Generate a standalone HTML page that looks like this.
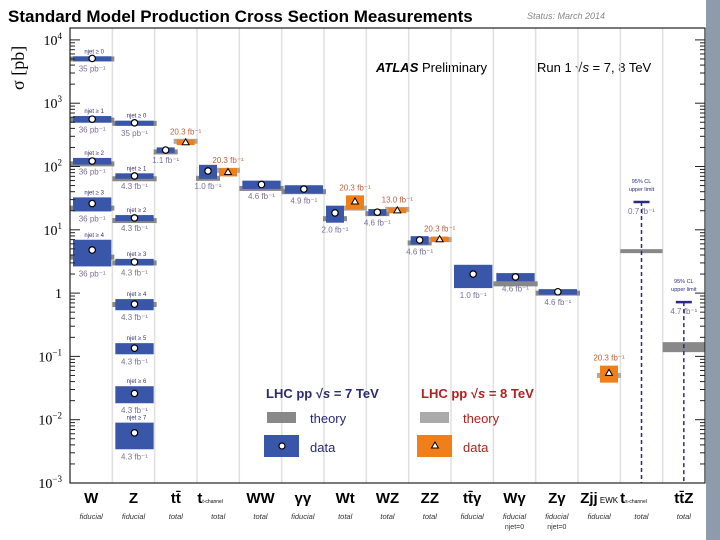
<!DOCTYPE html>
<html><head><meta charset="utf-8"><style>
html,body{margin:0;padding:0;background:#fff;}
svg{display:block;font-family:"Liberation Sans",sans-serif;}
</style></head><body>
<svg id="chart" width="720" height="540" viewBox="0 0 720 540" xmlns="http://www.w3.org/2000/svg">
<rect x="0" y="0" width="720" height="540" fill="#fff"/>
<rect x="706" y="0" width="14" height="540" fill="#8e9bab"/>
<text x="8" y="22" font-size="17" font-weight="bold">Standard Model Production Cross Section Measurements</text>
<text x="527" y="19" font-size="9" font-style="italic" fill="#888">Status: March 2014</text>
<text transform="translate(24,90) rotate(-90)" font-size="18" font-family="Liberation Serif,serif">σ [pb]</text>
<text x="376" y="72" font-size="13"><tspan font-weight="bold" font-style="italic">ATLAS</tspan> Preliminary</text>
<text x="537" y="72" font-size="13">Run 1   √<tspan font-style="italic">s</tspan> = 7, 8 TeV</text>
<g id="grid"></g><g id="theory"></g><g id="data"></g><g id="axes"></g><g id="labels"></g>
<g>
<text x="266" y="398" font-size="13" font-weight="bold" fill="#2a2a70">LHC pp  √<tspan font-style="italic">s</tspan> = 7 TeV</text>
<rect x="267" y="412" width="29" height="11" fill="#888"/>
<text x="310" y="423" font-size="13" fill="#2a2a70">theory</text>
<rect x="264" y="435" width="35" height="22" fill="#3a56a8"/>
<circle cx="282" cy="446" r="3" fill="#fff" stroke="#000" stroke-width="1.2"/>
<text x="310" y="452" font-size="13" fill="#2a2a70">data</text>
<text x="421" y="398" font-size="13" font-weight="bold" fill="#b02020">LHC pp  √<tspan font-style="italic">s</tspan> = 8 TeV</text>
<rect x="420" y="412" width="29" height="11" fill="#aaa"/>
<text x="463" y="423" font-size="13" fill="#b02020">theory</text>
<rect x="417" y="435" width="35" height="22" fill="#f07f1a"/>
<path d="M435 442 L438.5 448 L431.5 448 Z" fill="#fff" stroke="#000" stroke-width="1"/>
<text x="463" y="452" font-size="13" fill="#b02020">data</text>
</g>
</svg>
<script>
const categories=["W","Z","tt̄","t","WW","γγ","Wt","WZ","ZZ","tt̄γ","Wγ","Zγ","Zjj","t","tt̄Z"];
const subLabels=["fiducial","fiducial","total","total","total","fiducial","total","total","total","fiducial","fiducial","fiducial","fiducial","total","total"];
const subLabels2=["","","","","","","","","","","njet=0","njet=0","","",""];
// measurements
const mCol=[0,0,0,0,0,1,1,1,1,1,1,1,1,2,2,3,3,4,5,6,6,7,7,8,8,9,10,11,12];
const mPos=["f","f","f","f","f","f","f","f","f","f","f","f","f","l","r","l","r","f","f","l","r","l","r","l","r","f","f","f","r"];
const mEnergy=[7,7,7,7,7,7,7,7,7,7,7,7,7,7,8,7,8,7,7,7,8,7,8,7,8,7,7,7,8];
const mValue=[5100,560,122,26,4.8,490,71,15.4,3.1,0.67,0.135,0.026,0.0062,182,242,85,82,52,44,18.5,28,19,20.3,6.9,7.1,2.0,1.8,1.05,0.055];
const mErr=[0.08,0.12,0.12,0.25,0.45,0.08,0.1,0.11,0.12,0.2,0.2,0.3,0.45,0.1,0.1,0.25,0.15,0.15,0.15,0.3,0.25,0.12,0.1,0.15,0.1,0.4,0.15,0.1,0.3];
const mTheory=[5000,540,110,22,3.7,480,64,14,3.0,0.66,0,0,0,170,250,65,87,45,40,15,22,18,21,6.2,7.0,0,1.4,1.0,0.05];
const mLumi=["35 pb⁻¹","36 pb⁻¹","36 pb⁻¹","36 pb⁻¹","36 pb⁻¹","35 pb⁻¹","4.3 fb⁻¹","4.3 fb⁻¹","4.3 fb⁻¹","4.3 fb⁻¹","4.3 fb⁻¹","4.3 fb⁻¹","4.3 fb⁻¹","1.1 fb⁻¹","20.3 fb⁻¹","1.0 fb⁻¹","20.3 fb⁻¹","4.6 fb⁻¹","4.9 fb⁻¹","2.0 fb⁻¹","20.3 fb⁻¹","4.6 fb⁻¹","13.0 fb⁻¹","4.6 fb⁻¹","20.3 fb⁻¹","1.0 fb⁻¹","4.6 fb⁻¹","4.6 fb⁻¹","20.3 fb⁻¹"];
const mJet=["njet ≥ 0","njet ≥ 1","njet ≥ 2","njet ≥ 3","njet ≥ 4","njet ≥ 0","njet ≥ 1","njet ≥ 2","njet ≥ 3","njet ≥ 4","njet ≥ 5","njet ≥ 6","njet ≥ 7","","","","","","","","","","","","","","","",""];
// upper limits
const lCol=[13,14];
const lValue=[27.5,0.72];
const lTheory=[4.6,0.14];
const lLumi=["0.7 fb⁻¹","4.7 fb⁻¹"];
const lCL=["95% CL","95% CL"];

const NS="http://www.w3.org/2000/svg";
const X0=70,X1=705,Y0=483,DEC=63.3;
const CW=(X1-X0)/categories.length;
function y(v){return Y0-(Math.log10(v)+3)*DEC;}
function colX(i){return X0+i*CW;}
function mk(tag,attrs,parent,txt){const e=document.createElementNS(NS,tag);for(const k in attrs)e.setAttribute(k,attrs[k]);if(txt!==undefined)e.textContent=txt;document.getElementById(parent).appendChild(e);return e;}
function xr(c,p){const x=colX(c);if(p==="l")return[x+2,x+20];if(p==="r")return[x+22,x+40];return[x+3,x+CW-1];}

// grid
for(let i=1;i<categories.length;i++){
  const g=mk("line",{x1:colX(i),x2:colX(i),y1:28,y2:Y0,stroke:"#e0e0e0","stroke-width":1.5},"grid");
  
  
}
// axes
mk("line",{x1:X0,x2:X1,y1:28,y2:28,stroke:"#000","stroke-width":1},"axes");
const fr=mk("rect",{x:X0,y:28,width:X1-X0,height:Y0-28,fill:"none",stroke:"#222","stroke-width":1.2},"axes");


const expo=["−3","−2","−1","","1","","",""];
for(let d=-3;d<=4;d++){
  const yy=y(Math.pow(10,d));
  mk("line",{x1:X0,x2:X0+10,y1:yy,y2:yy,stroke:"#222"},"axes");
  mk("line",{x1:X1-10,x2:X1,y1:yy,y2:yy,stroke:"#222"},"axes");
  const t=mk("text",{x:62,y:yy+5,"font-size":14,"text-anchor":"end","font-family":"Liberation Serif,serif"},"axes");
  
  
  if(d===0){t.textContent="1";}
  else if(d===1){t.textContent="10";const s=document.createElementNS(NS,"tspan");s.setAttribute("dy","-6");s.setAttribute("font-size","9");s.textContent="1";t.appendChild(s);}
  else{t.textContent="10";const s=document.createElementNS(NS,"tspan");s.setAttribute("dy","-6");s.setAttribute("font-size","9");s.textContent=d<0?"−"+(-d):String(d);t.appendChild(s);}
  if(d<4)for(let m=2;m<10;m++){const ym=y(m*Math.pow(10,d));
    mk("line",{x1:X0,x2:X0+5,y1:ym,y2:ym,stroke:"#222"},"axes");
    mk("line",{x1:X1-5,x2:X1,y1:ym,y2:ym,stroke:"#222"},"axes");}
}
// category labels
categories.forEach((c,i)=>{
  const cx=colX(i)+CW/2;
  const t=mk("text",{x:cx,y:503,"font-size":15,"font-weight":"bold","text-anchor":"middle"},"labels",c);
  
  
  if(i===3||i===13){t.setAttribute("x",cx-8);t.setAttribute("font-size","15");const s=document.createElementNS(NS,"tspan");s.setAttribute("font-size","5");s.setAttribute("font-weight","normal");s.textContent=i===3?"t-channel":"s-channel";t.appendChild(s);}
  if(i===12){const s=document.createElementNS(NS,"tspan");s.setAttribute("font-size","8");s.setAttribute("font-weight","normal");s.textContent=" EWK";t.appendChild(s);}
  const s1=mk("text",{x:cx,y:519,"font-size":7.5,"font-style":"italic","text-anchor":"middle",fill:"#333"},"labels",subLabels[i]);
  
  
  if(subLabels2[i]){mk("text",{x:cx,y:529,"font-size":7,"text-anchor":"middle",fill:"#333"},"labels",subLabels2[i]);}
});
// measurements
mValue.forEach((v,i)=>{
  const [a,b]=xr(mCol[i],mPos[i]);
  const e8=mEnergy[i]===8;
  if(mTheory[i]>0){
    const ty=y(mTheory[i]);
    const th=mk("rect",{x:a-3,y:ty-2.5,width:b-a+6,height:5,fill:e8?"#aaa":"#888"},"theory");
    
    
  }
  const yt=y(v*(1+mErr[i])),yb=y(v*(1-mErr[i]));
  const r=mk("rect",{x:a,y:yt,width:b-a,height:Math.max(5,yb-yt),fill:e8?"#f07f1a":"#3a56a8"},"data");
  
  
  const cy=y(v),cx=(a+b)/2;
  if(e8){mk("path",{d:`M${cx} ${cy-3.5} L${cx+3.5} ${cy+2.5} L${cx-3.5} ${cy+2.5} Z`,fill:"#fff",stroke:"#000","stroke-width":1},"data");}
  else{const c=mk("circle",{cx:cx,cy:cy,r:3.2,fill:"#fff",stroke:"#000","stroke-width":1.2},"data");
    
    }
  const lt=mk("text",{x:cx,y:e8?yt-5:Math.max(yb,cy+3)+10,"font-size":8,"text-anchor":"middle",fill:e8?"#c0603a":"#7a7098"},"labels",mLumi[i]);
  
  
  if(mJet[i]){const j=mk("text",{x:cx+2,y:yt-3,"font-size":6,"text-anchor":"middle",fill:"#3a3070"},"labels",mJet[i]);
    
    }
});
// upper limits
lValue.forEach((v,i)=>{
  const cx=colX(lCol[i])+CW/2;
  const ty=y(lTheory[i]);
  const th=mk("rect",{x:colX(lCol[i]),y:ty-(i?5:2),width:CW,height:i?10:4,fill:"#888"},"theory");
  
  
  const ly=y(v);
  const dl=mk("line",{x1:cx,x2:cx,y1:ly,y2:Y0,stroke:"#2a2a80","stroke-width":1.5,"stroke-dasharray":"4,3"},"data");
  
  
  const cap=mk("line",{x1:cx-8,x2:cx+8,y1:ly,y2:ly,stroke:"#2a2a80","stroke-width":2.5},"data");
  
  
  mk("text",{x:cx,y:ly-19,"font-size":5.5,"text-anchor":"middle",fill:"#2a2a80"},"labels",lCL[i]);
  mk("text",{x:cx,y:ly-11,"font-size":5.5,"text-anchor":"middle",fill:"#2a2a80"},"labels","upper limit");
  mk("text",{x:cx,y:ly+12,"font-size":8,"text-anchor":"middle",fill:"#7a7098"},"labels",lLumi[i]);
});
</script>
</body></html>
